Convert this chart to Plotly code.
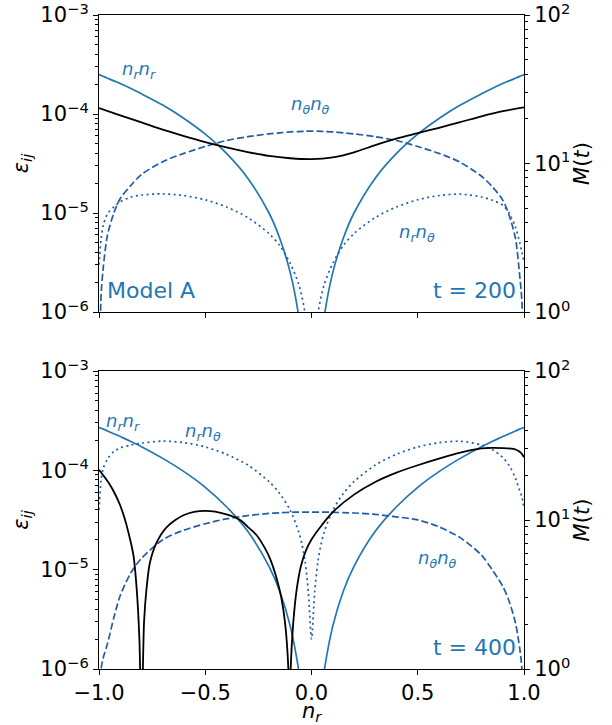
import plotly.graph_objects as go

# ---------------- data ----------------
nr_top = [-1.0, -0.99, -0.98, -0.96, -0.93, -0.9, -0.85, -0.8, -0.7, -0.6, -0.5, -0.4, -0.3, -0.2, -0.15,
          -0.1, -0.06, -0.03, 0.0, 0.03, 0.06, 0.1, 0.15, 0.2, 0.3, 0.4, 0.5, 0.6, 0.7, 0.8, 0.85, 0.9,
          0.93, 0.96, 0.98, 0.99, 1.0]

t200_nrnr = [2.5e-4, 2.45e-4, 2.4e-4, 2.3e-4, 2.16e-4, 2.03e-4, 1.81e-4, 1.6e-4, 1.23e-4, 9.0e-5, 6.25e-5,
             4.0e-5, 2.25e-5, 1.0e-5, 5.6e-6, 2.5e-6, 9.0e-7, 2.2e-7, 1e-7, 2.2e-7, 9.0e-7, 2.5e-6, 5.6e-6,
             1.0e-5, 2.25e-5, 4.0e-5, 6.25e-5, 9.0e-5, 1.23e-4, 1.6e-4, 1.81e-4, 2.03e-4, 2.16e-4, 2.3e-4,
             2.4e-4, 2.45e-4, 2.5e-4]
t200_ntnt = [1e-7, 1.5e-6, 2.8e-6, 6.0e-6, 1.0e-5, 1.4e-5, 1.9e-5, 2.45e-5, 3.3e-5, 4.0e-5, 4.7e-5, 5.4e-5,
             5.9e-5, 6.3e-5, 6.45e-5, 6.6e-5, 6.65e-5, 6.7e-5, 6.7e-5, 6.7e-5, 6.65e-5, 6.6e-5, 6.45e-5,
             6.3e-5, 5.9e-5, 5.4e-5, 4.7e-5, 4.0e-5, 3.25e-5, 2.35e-5, 1.85e-5, 1.35e-5, 9.5e-6, 5.5e-6,
             2.3e-6, 1.3e-6, 1e-7]
t200_nrnt = [3.0e-6, 5.5e-6, 7.5e-6, 9.8e-6, 1.15e-5, 1.3e-5, 1.45e-5, 1.52e-5, 1.56e-5, 1.5e-5, 1.36e-5,
             1.15e-5, 9.0e-6, 6.2e-6, 4.7e-6, 3.1e-6, 1.9e-6, 9.5e-7, 1e-7, 9.5e-7, 1.9e-6, 3.1e-6, 4.7e-6,
             6.2e-6, 9.0e-6, 1.15e-5, 1.36e-5, 1.5e-5, 1.55e-5, 1.45e-5, 1.35e-5, 1.2e-5, 1.0e-5, 7.2e-6,
             5.0e-6, 4.0e-6, 3.2e-6]

m200_x = [-1.0, -0.9, -0.8, -0.7, -0.6, -0.5, -0.4, -0.3, -0.2, -0.1, 0.0, 0.1, 0.2, 0.3, 0.4, 0.5, 0.6,
          0.7, 0.8, 0.9, 1.0]
m200 = [23.6, 21.1, 18.9, 16.9, 15.3, 13.95, 12.85, 11.95, 11.25, 10.85, 10.7, 11.0, 11.9, 13.3, 14.7, 16.0,
        17.4, 19.0, 20.8, 22.5, 23.9]

nr_bot = [-1.0, -0.99, -0.98, -0.96, -0.93, -0.9, -0.85, -0.8, -0.7, -0.6, -0.5, -0.4, -0.3, -0.2, -0.15,
          -0.1, -0.06, -0.045, -0.03, -0.015, 0.0, 0.015, 0.03, 0.045, 0.06, 0.1, 0.15, 0.2, 0.3, 0.4, 0.5,
          0.6, 0.7, 0.8, 0.85, 0.9, 0.93, 0.96, 0.98, 0.99, 1.0]

t400_nrnr = [2.7e-4, 2.65e-4, 2.6e-4, 2.49e-4, 2.34e-4, 2.19e-4, 1.95e-4, 1.73e-4, 1.32e-4, 9.7e-5, 6.75e-5,
             4.3e-5, 2.43e-5, 1.08e-5, 6.1e-6, 2.7e-6, 9.7e-7, 5.5e-7, 2.4e-7, 1.2e-7, 1e-7, 1.2e-7, 2.4e-7,
             5.5e-7, 9.7e-7, 2.7e-6, 6.1e-6, 1.08e-5, 2.43e-5, 4.3e-5, 6.75e-5, 9.7e-5, 1.32e-4, 1.73e-4,
             1.95e-4, 2.19e-4, 2.34e-4, 2.49e-4, 2.6e-4, 2.65e-4, 2.7e-4]
t400_ntnt = [1e-7, 1.0e-6, 1.3e-6, 1.8e-6, 3.3e-6, 5.5e-6, 9.3e-6, 1.3e-5, 2.0e-5, 2.5e-5, 2.9e-5, 3.25e-5,
             3.5e-5, 3.68e-5, 3.74e-5, 3.78e-5, 3.8e-5, 3.8e-5, 3.8e-5, 3.8e-5, 3.8e-5, 3.8e-5, 3.8e-5,
             3.8e-5, 3.8e-5, 3.78e-5, 3.75e-5, 3.72e-5, 3.6e-5, 3.4e-5, 3.17e-5, 2.7e-5, 2.1e-5, 1.4e-5,
             1.0e-5, 6.8e-6, 4.8e-6, 2.9e-6, 1.6e-6, 1.0e-6, 1e-7]
t400_nrnt = [4.0e-5, 8.0e-5, 1.05e-4, 1.3e-4, 1.55e-4, 1.68e-4, 1.8e-4, 1.88e-4, 1.97e-4, 1.9e-4, 1.72e-4,
             1.45e-4, 1.13e-4, 7.7e-5, 5.85e-5, 3.95e-5, 2.4e-5, 1.8e-5, 1.2e-5, 6.0e-6, 2.0e-6, 6.0e-6,
             1.2e-5, 1.8e-5, 2.4e-5, 3.95e-5, 5.85e-5, 7.7e-5, 1.13e-4, 1.45e-4, 1.72e-4, 1.9e-4, 1.96e-4,
             1.8e-4, 1.62e-4, 1.35e-4, 1.12e-4, 8.3e-5, 6.2e-5, 5.4e-5, 4.1e-5]

m400_x = [-1.0, -0.975, -0.948, -0.925, -0.901, -0.88, -0.862, -0.838, -0.823, -0.81, -0.8, -0.788, -0.776,
          -0.76, -0.728, -0.68, -0.6, -0.5, -0.4, -0.336, -0.3, -0.258, -0.22, -0.195, -0.148, -0.125,
          -0.109, -0.104, -0.098, -0.086, -0.07, -0.05, -0.025, 0.0, 0.05, 0.1, 0.2, 0.3, 0.4, 0.5, 0.6,
          0.7, 0.8, 0.85, 0.9, 0.95, 0.97, 0.985, 1.0]
m400 = [21.7, 19.5, 17.2, 15.0, 12.6, 10.3, 8.3, 5.8, 3.5, 1.6, 0.4, 2.07, 3.5, 5.2, 7.1, 9.0, 10.8, 11.5,
        10.9, 10.0, 9.0, 7.9, 6.5, 5.5, 3.3, 2.07, 1.01, 0.4, 1.0, 2.03, 3.4, 4.9, 6.3, 7.4, 9.3, 11.3,
        14.8, 18.0, 20.8, 23.3, 25.8, 28.3, 30.2, 30.5, 30.4, 30.0, 29.3, 28.3, 26.4]

x_ticks = [-1.0, -0.5, 0.0, 0.5, 1.0]
x_ticktext = ["\u22121.0", "\u22120.5", "0.0", "0.5", "1.0"]
eps_ticks = [1e-6, 1e-5, 1e-4, 1e-3]
eps_ticktext = ["10<sup>\u22126</sup>", "10<sup>\u22125</sup>", "10<sup>\u22124</sup>", "10<sup>\u22123</sup>"]
m_ticks = [1, 10, 100]
m_ticktext = ["10<sup>0</sup>", "10<sup>1</sup>", "10<sup>2</sup>"]

# ---------------- styling ----------------
C0 = "#1f77b4"
CD = "#1f5ea6"
FONT = "DejaVu Sans"
W, H = 612, 725
PL, PR, PT, PB = 99, 524, 15, 669


def fx(p):
    return (p - PL) / (PR - PL)


def fy(p):
    return (PB - p) / (PB - PT)


fig = go.Figure()


def add_panel(xa, ya, ya2, x, nrnr, ntnt, nrnt, mx, m):
    fig.add_trace(go.Scatter(x=x, y=nrnr, mode="lines",
                             line=dict(color=C0, width=1.7, shape="spline", smoothing=0.8),
                             xaxis=xa, yaxis=ya, showlegend=False))
    fig.add_trace(go.Scatter(x=x, y=ntnt, mode="lines",
                             line=dict(color=CD, width=1.7, dash="7px,3px", shape="spline", smoothing=0.8),
                             xaxis=xa, yaxis=ya, showlegend=False))
    fig.add_trace(go.Scatter(x=x, y=nrnt, mode="lines",
                             line=dict(color=CD, width=1.7, dash="2px,3.4px", shape="spline", smoothing=0.8),
                             xaxis=xa, yaxis=ya, showlegend=False))
    fig.add_trace(go.Scatter(x=mx, y=m, mode="lines",
                             line=dict(color="black", width=1.8, shape="spline", smoothing=0.8),
                             xaxis=xa, yaxis=ya2, showlegend=False))


add_panel("x", "y", "y2", nr_top, t200_nrnr, t200_ntnt, t200_nrnt, m200_x, m200)
add_panel("x2", "y3", "y4", nr_bot, t400_nrnr, t400_ntnt, t400_nrnt, m400_x, m400)

tickfont = dict(family=FONT, size=21, color="black")
minor_eps = [k * 10 ** e for e in range(-6, -3) for k in range(2, 10)]
minor_m = [k * 10 ** e for e in range(0, 2) for k in range(2, 10)]

xcommon = dict(range=[-1, 1], tickvals=x_ticks, ticktext=x_ticktext, ticks="outside", ticklen=5,
               tickwidth=1.1, tickcolor="black", showline=True, linecolor="black", linewidth=1.1,
               mirror=True, showgrid=False, zeroline=False, tickfont=tickfont, domain=[0, 1],
               automargin=False, ticklabeloverflow="allow")
eps_common = dict(type="log", range=[-6, -3], tickvals=eps_ticks, ticktext=eps_ticktext, ticks="outside",
                  ticklen=5, tickwidth=1.1, tickcolor="black", showline=True, linecolor="black",
                  linewidth=1.1, showgrid=False, zeroline=False, tickfont=tickfont, automargin=False,
                  ticklabeloverflow="allow",
                  minor=dict(tickvals=minor_eps, ticks="outside", ticklen=3, tickwidth=0.8,
                             tickcolor="black", showgrid=False),
                  title=dict(text="<i>\u03b5</i><sub><i>ij</i></sub>",
                             font=dict(family=FONT, size=21, color="black"), standoff=6))
m_common = dict(type="log", range=[0, 2], tickvals=m_ticks, ticktext=m_ticktext, ticks="outside",
                ticklen=5, tickwidth=1.1, tickcolor="black", showline=True, linecolor="black",
                linewidth=1.1, showgrid=False, zeroline=False, tickfont=tickfont, side="right",
                automargin=False, ticklabeloverflow="allow",
                minor=dict(tickvals=minor_m, ticks="outside", ticklen=3, tickwidth=0.8,
                           tickcolor="black", showgrid=False),
                title=dict(text="<i>M</i>(<i>t</i>)", font=dict(family=FONT, size=21, color="black"),
                           standoff=0))

top_dom = [fy(312), 1.0]
bot_dom = [0.0, fy(371)]

fig.update_layout(
    width=W, height=H,
    margin=dict(l=PL, r=W - PR, t=PT, b=H - PB),
    paper_bgcolor="white", plot_bgcolor="white",
    font=dict(family=FONT, color="black"),
    xaxis=dict(xcommon, anchor="y", showticklabels=False),
    yaxis=dict(eps_common, domain=top_dom, anchor="x"),
    yaxis2=dict(m_common, domain=top_dom, anchor="x", overlaying="y"),
    xaxis2=dict(xcommon, anchor="y3"),
    yaxis3=dict(eps_common, domain=bot_dom, anchor="x2"),
    yaxis4=dict(m_common, domain=bot_dom, anchor="x2", overlaying="y3"),
)

lab = dict(family=FONT, size=18, color=C0)
big = dict(family=FONT, size=22, color=C0)


def ann(text, xp, yp, font, xanchor="center"):
    fig.add_annotation(text=text, x=fx(xp), y=fy(yp), xref="paper", yref="paper", showarrow=False,
                       font=font, xanchor=xanchor, yanchor="middle", borderpad=0)


NRNR = "<i>n</i><sub><i>r</i></sub><i>n</i><sub><i>r</i></sub>"
NTNT = "<i>n</i><sub><i>\u03b8</i></sub><i>n</i><sub><i>\u03b8</i></sub>"
NRNT = "<i>n</i><sub><i>r</i></sub><i>n</i><sub><i>\u03b8</i></sub>"

# top panel labels
ann(NRNR, 139, 70, lab)
ann(NTNT, 310, 105, lab)
ann(NRNT, 417, 233, lab)
ann("Model A", 106, 290, big, "left")
ann("t = 200", 517, 290, big, "right")
# bottom panel labels
ann(NRNR, 123, 422, lab)
ann(NRNT, 203, 432, lab)
ann(NTNT, 437, 559, lab)
ann("t = 400", 517, 647, big, "right")
# x axis title
ann("<i>n</i><sub><i>r</i></sub>", 312, 712, dict(family=FONT, size=21, color="black"))

fig.write_html("out.html")
